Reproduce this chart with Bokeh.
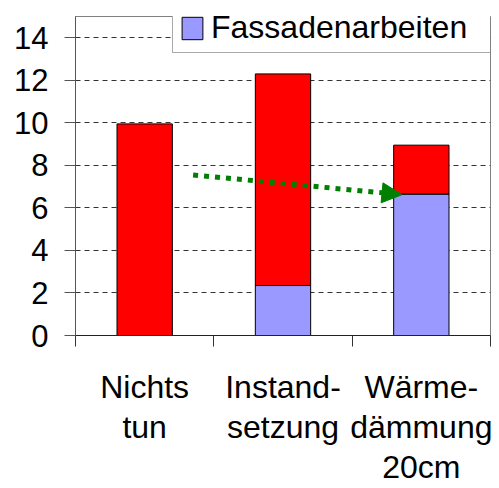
from bokeh.plotting import figure
from bokeh.models import (Range1d, FixedTicker, Legend, LegendItem, Arrow, NormalHead)
from bokeh.embed import file_html
from bokeh.resources import INLINE

# --- data ---
categories = ["Nichts\ntun", "Instand-\nsetzung", "Wärme-\ndämmung\n20cm"]
fassade = [0.0, 2.35, 6.65]          # Fassadenarbeiten (blue)
rest = [9.95, 9.95, 2.3]             # remaining share (red)
y_ticks = [0, 2, 4, 6, 8, 10, 12, 14]
arrow_x = [0.85, 2.36]
arrow_y = [7.55, 6.62]

xc = [i + 0.5 for i in range(len(categories))]
top_blue = fassade
top_red = [b + r for b, r in zip(fassade, rest)]

FONT = "Liberation Sans"

p = figure(width=499, height=488, output_backend="svg", toolbar_location=None,
           x_range=Range1d(0, 3), y_range=Range1d(0, 15),
           min_border_left=75, min_border_right=9, min_border_top=16, min_border_bottom=152)
p.outline_line_color = "#808080"
p.xgrid.visible = False
p.ygrid.grid_line_color = "#333333"
p.ygrid.grid_line_dash = "5 4"
p.ygrid.ticker = FixedTicker(ticks=y_ticks)

blue = p.vbar(x=xc, bottom=0, top=top_blue, width=0.4,
              fill_color="#9999ff", line_color="black", line_width=1)
red = p.vbar(x=xc, bottom=top_blue, top=top_red, width=0.4,
             fill_color="#ff0000", line_color="black", line_width=1)

# y axis
ya = p.yaxis[0]
ya.ticker = FixedTicker(ticks=y_ticks)
ya.major_tick_out = 11
ya.major_tick_in = 0
ya.minor_tick_out = 0
ya.minor_tick_in = 0
ya.axis_line_color = "#555555"
ya.major_tick_line_color = "#555555"
ya.major_label_text_font = FONT
ya.major_label_text_font_size = "31px"
ya.major_label_text_color = "black"
ya.major_label_standoff = 16

# x axis
xa = p.xaxis[0]
xa.ticker = FixedTicker(ticks=xc, minor_ticks=[0, 1, 2, 3])
xa.major_label_overrides = {x: c for x, c in zip(xc, categories)}
xa.major_tick_out = 0
xa.major_tick_in = 0
xa.minor_tick_out = 11
xa.minor_tick_in = 0
xa.minor_tick_line_color = "#333333"
xa.axis_line_color = "#222222"
xa.major_label_text_font = FONT
xa.major_label_text_font_size = "32px"
xa.major_label_text_color = "black"
xa.major_label_text_line_height = 1.12
xa.major_label_standoff = 22

# arrow
p.add_layout(Arrow(x_start=arrow_x[0], y_start=arrow_y[0], x_end=arrow_x[1], y_end=arrow_y[1],
                   line_color="#008000", line_width=5, line_dash="5 6",
                   end=NormalHead(size=20, fill_color="#008000", line_color="#008000")))

legend = Legend(items=[LegendItem(label="Fassadenarbeiten", renderers=[blue])],
                location=(97, 282), orientation="vertical",
                label_text_font=FONT, label_text_font_size="32px", label_text_color="black",
                glyph_width=26, glyph_height=28, label_standoff=6, label_width=274,
                padding=6, margin=0, spacing=0,
                border_line_color="#555555", border_line_width=1,
                background_fill_alpha=1)
p.add_layout(legend, "center")

open("out.html", "w").write(file_html(p, INLINE))
